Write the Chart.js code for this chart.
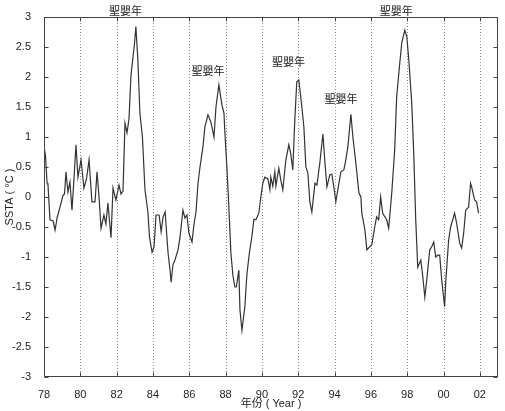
<!DOCTYPE html>
<html>
<head>
<meta charset="utf-8">
<script src="https://cdn.jsdelivr.net/npm/chart.js@4"></script>
<style>
  html, body { margin: 0; padding: 0; background: #fff; }
  canvas { display: block; }
</style>
</head>
<body>
<canvas id="sstaChart" width="505" height="411"></canvas>
<script>
// 月份時間 (年) 與 SSTA (°C)
const years = [
  1978.00, 1978.08, 1978.17, 1978.22, 1978.33, 1978.50, 1978.61, 1978.72, 1978.88,
  1979.05, 1979.13, 1979.21, 1979.32, 1979.43, 1979.54, 1979.65, 1979.76, 1979.87,
  1980.04, 1980.20, 1980.34, 1980.48, 1980.64, 1980.81, 1980.92,
  1981.03, 1981.14, 1981.30, 1981.41, 1981.52, 1981.69, 1981.80, 1981.96,
  1982.13, 1982.24, 1982.35, 1982.46, 1982.57, 1982.68, 1982.79, 1982.90, 1982.98,
  1983.06, 1983.17, 1983.28, 1983.42, 1983.56, 1983.72, 1983.81, 1983.95,
  1984.06, 1984.17, 1984.34, 1984.45, 1984.56, 1984.67, 1984.83, 1984.94,
  1985.00, 1985.10, 1985.21, 1985.38, 1985.49, 1985.65, 1985.76, 1985.87, 1985.98,
  1986.15, 1986.26, 1986.37, 1986.48, 1986.59, 1986.75, 1986.86,
  1987.03, 1987.19, 1987.36, 1987.47, 1987.63, 1987.80, 1987.91, 1987.96,
  1988.07, 1988.18, 1988.29, 1988.40, 1988.51, 1988.59, 1988.73, 1988.79, 1988.90,
  1989.06, 1989.17, 1989.31, 1989.45, 1989.56, 1989.67, 1989.83, 1989.94,
  1990.05, 1990.16, 1990.33, 1990.44, 1990.49, 1990.60, 1990.71, 1990.77, 1990.93,
  1991.04, 1991.15, 1991.32, 1991.48, 1991.59, 1991.70, 1991.81, 1991.92,
  1992.03, 1992.14, 1992.31, 1992.42, 1992.53, 1992.64, 1992.75, 1992.92,
  1993.03, 1993.19, 1993.36, 1993.47, 1993.58, 1993.74, 1993.85, 1993.96,
  1994.07, 1994.24, 1994.35, 1994.51, 1994.62, 1994.73, 1994.90,
  1995.01, 1995.17, 1995.34, 1995.45, 1995.50, 1995.67, 1995.78, 1995.94,
  1996.05, 1996.21, 1996.32, 1996.43, 1996.54, 1996.65, 1996.87, 1996.98,
  1997.15, 1997.31, 1997.42, 1997.59, 1997.70, 1997.87, 1997.98,
  1998.09, 1998.25, 1998.36, 1998.47, 1998.58, 1998.75, 1998.86, 1998.97,
  1999.08, 1999.24, 1999.35, 1999.46, 1999.57, 1999.68, 1999.79, 1999.90,
  2000.06, 2000.12, 2000.28, 2000.39, 2000.61, 2000.72, 2000.89,
  2001.00, 2001.11, 2001.22, 2001.38, 2001.49, 2001.55, 2001.71, 2001.82, 2001.93
];
const ssta = [
  0.83, 0.70, 0.23, 0.20, -0.38, -0.40, -0.55, -0.35, -0.17,
  0.03, 0.05, 0.42, 0.08, 0.25, -0.22, 0.30, 0.87, 0.33,
  0.62, 0.15, 0.30, 0.62, -0.08, -0.08, 0.42,
  0.00, -0.52, -0.30, -0.45, -0.10, -0.68, 0.15, -0.05,
  0.20, 0.05, 0.10, 1.23, 1.07, 1.30, 2.03, 2.33, 2.55,
  2.84, 2.28, 1.40, 1.00, 0.12, -0.25, -0.67, -0.92,
  -0.83, -0.30, -0.30, -0.58, -0.33, -0.25, -0.93, -1.22,
  -1.42, -1.13, -1.05, -0.88, -0.67, -0.22, -0.35, -0.30, -0.60,
  -0.75, -0.45, -0.25, 0.23, 0.50, 0.83, 1.17,
  1.37, 1.25, 1.00, 1.50, 1.87, 1.53, 1.40, 1.07,
  0.50, -0.17, -0.93, -1.30, -1.50, -1.50, -1.22, -1.88, -2.22,
  -1.83, -1.30, -0.93, -0.65, -0.37, -0.38, -0.27, 0.00,
  0.23, 0.33, 0.30, 0.12, 0.33, 0.18, 0.42, 0.18, 0.48,
  0.28, 0.12, 0.62, 0.87, 0.72, 0.45, 1.28, 1.92,
  1.95, 1.67, 1.17, 0.50, 0.40, -0.08, -0.25, 0.23,
  0.20, 0.57, 1.05, 0.57, 0.17, 0.37, 0.38, 0.17,
  -0.08, 0.23, 0.42, 0.45, 0.62, 0.83, 1.38,
  1.00, 0.57, 0.07, 0.00, -0.27, -0.55, -0.88, -0.83,
  -0.80, -0.50, -0.33, -0.38, 0.00, -0.27, -0.38, -0.52,
  0.07, 0.78, 1.67, 2.23, 2.57, 2.78, 2.67,
  2.28, 1.57, 0.73, -0.38, -1.17, -1.05, -1.33, -1.67,
  -1.38, -0.88, -0.83, -0.75, -1.00, -0.97, -0.97, -1.38,
  -1.83, -1.43, -0.72, -0.50, -0.27, -0.43, -0.77,
  -0.85, -0.60, -0.22, -0.17, 0.23, 0.17, -0.05, -0.08, -0.27
];

const tickYears = [1978, 1980, 1982, 1984, 1986, 1988, 1990, 1992, 1994, 1996, 1998, 2000, 2002];
const tickValues = [-3, -2.5, -2, -1.5, -1, -0.5, 0, 0.5, 1, 1.5, 2, 2.5, 3];

// 聖嬰年標註的位置 (年, SSTA)
const ninoText = '聖嬰年';
const ninoYears = [1982.49, 1987.03, 1991.46, 1994.35, 1997.40];
const ninoLevels = [3.10, 2.10, 2.25, 1.63, 3.10];

const latin = '"Liberation Sans", Arial, "Noto Sans CJK TC", sans-serif';
const tickFont = { family: latin, size: 11 };

const framePlugin = {
  id: 'frame',
  beforeDatasetsDraw(chart) {
    const { ctx, chartArea: a, scales: { x } } = chart;
    ctx.save();
    ctx.strokeStyle = '#8c8c8c';
    ctx.lineWidth = 1;
    ctx.setLineDash([1, 2]);
    tickYears.slice(1).forEach(yr => {
      const px = Math.round(x.getPixelForValue(yr)) + 0.5;
      ctx.beginPath();
      ctx.moveTo(px, a.top);
      ctx.lineTo(px, a.bottom);
      ctx.stroke();
    });
    ctx.restore();
  },
  afterDraw(chart) {
    const { ctx, chartArea: a, scales: { x, y } } = chart;
    const L = Math.round(a.left) + 0.5, R = Math.round(a.right) - 0.5;
    const T = Math.round(a.top) + 0.5, B = Math.round(a.bottom) - 0.5;
    ctx.save();
    ctx.strokeStyle = '#444';
    ctx.lineWidth = 1;
    ctx.strokeRect(L, T, R - L, B - T);
    ctx.beginPath();
    tickValues.forEach(v => {
      const py = Math.round(y.getPixelForValue(v)) + 0.5;
      ctx.moveTo(L, py); ctx.lineTo(L + 4, py);
      ctx.moveTo(R, py); ctx.lineTo(R - 4, py);
    });
    tickYears.forEach(yr => {
      const px = Math.round(x.getPixelForValue(yr)) + 0.5;
      ctx.moveTo(px, B); ctx.lineTo(px, B - 4);
      ctx.moveTo(px, T); ctx.lineTo(px, T + 4);
    });
    ctx.stroke();

    ctx.fillStyle = '#222';
    ctx.font = '11px "Noto Sans CJK TC", sans-serif';
    ctx.textAlign = 'center';
    ctx.textBaseline = 'middle';
    ninoYears.forEach((yr, i) => {
      ctx.fillText(ninoText, x.getPixelForValue(yr), y.getPixelForValue(ninoLevels[i]));
    });
    ctx.restore();
  }
};

new Chart(document.getElementById('sstaChart'), {
  type: 'line',
  data: {
    datasets: [{
      data: years.map((t, i) => ({ x: t, y: ssta[i] })),
      borderColor: '#333',
      borderWidth: 1.2,
      pointRadius: 0,
      tension: 0,
      fill: false
    }]
  },
  options: {
    responsive: false,
    animation: false,
    layout: { padding: { left: 0, right: 7, top: 17, bottom: 0 } },
    plugins: {
      legend: { display: false },
      tooltip: { enabled: false }
    },
    scales: {
      x: {
        type: 'linear',
        min: 1978,
        max: 2003,
        grid: { display: false },
        border: { display: false },
        afterBuildTicks: s => { s.ticks = tickYears.map(v => ({ value: v })); },
        afterFit: s => { s.height = 34; },
        ticks: {
          autoSkip: false,
          maxRotation: 0,
          padding: 3,
          color: '#222',
          font: tickFont,
          callback: v => String(v % 100).padStart(2, '0')
        },
        title: {
          display: true,
          text: '年份 ( Year )',
          color: '#222',
          font: tickFont,
          padding: { top: 0, bottom: 0 }
        }
      },
      y: {
        min: -3,
        max: 3,
        grid: { display: false },
        border: { display: false },
        afterBuildTicks: s => { s.ticks = tickValues.map(v => ({ value: v })); },
        afterFit: s => { s.width = 44; },
        ticks: {
          padding: 5,
          color: '#222',
          font: tickFont,
          callback: v => String(v)
        },
        title: {
          display: true,
          text: 'SSTA ( °C )',
          color: '#222',
          font: tickFont,
          padding: { top: 3, bottom: 0 }
        }
      }
    }
  },
  plugins: [framePlugin]
});
</script>
</body>
</html>
